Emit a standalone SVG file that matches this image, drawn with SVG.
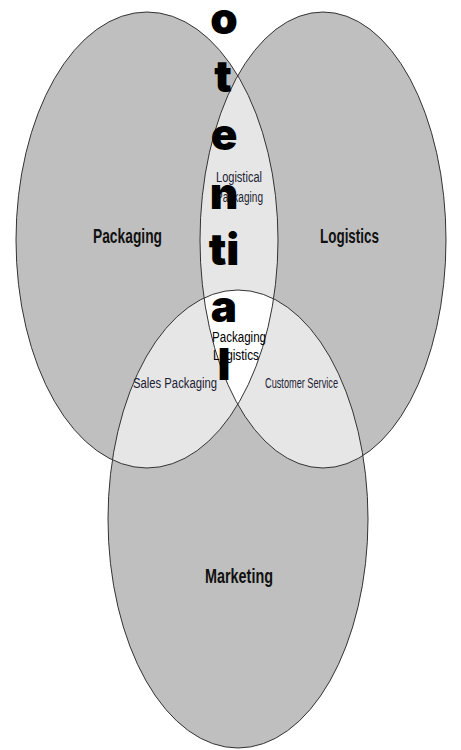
<svg xmlns="http://www.w3.org/2000/svg" width="461" height="750" viewBox="0 0 461 750">
  <defs>
    <clipPath id="cL"><ellipse cx="147" cy="240" rx="131" ry="228"/></clipPath>
    <clipPath id="cR"><ellipse cx="323" cy="240" rx="123" ry="228"/></clipPath>
    <clipPath id="cM"><ellipse cx="238" cy="519" rx="130" ry="229"/></clipPath>
    <style>
      .base { fill: #bfbfbf; stroke: none; }
      .pair { fill: #e6e6e6; stroke: none; }
      .triple { fill: #ffffff; stroke: none; }
      .outline { fill: none; stroke: #333333; stroke-width: 1; }
      .main { font-family: "Liberation Sans", Arial, sans-serif; font-weight: bold; font-size: 20px; fill: #111111; text-anchor: start; }
      .sub { font-family: "Liberation Sans", Arial, sans-serif; font-size: 14px; fill: #222233; }
      .subb { font-family: "Liberation Sans", Arial, sans-serif; font-size: 14px; fill: #000000; }
      .big { font-family: "Inter", "Lato", "Roboto", "DejaVu Sans", sans-serif; font-weight: 900; font-size: 44px; fill: #000000; text-anchor: middle; }
    </style>
  </defs>
  <rect width="461" height="750" fill="#ffffff"/>

  <g id="regions">
    <ellipse class="base" cx="147" cy="240" rx="131" ry="228"/>
    <ellipse class="base" cx="323" cy="240" rx="123" ry="228"/>
    <ellipse class="base" cx="238" cy="519" rx="130" ry="229"/>
    <g clip-path="url(#cL)"><ellipse class="pair" cx="323" cy="240" rx="123" ry="228"/></g>
    <g clip-path="url(#cL)"><ellipse class="pair" cx="238" cy="519" rx="130" ry="229"/></g>
    <g clip-path="url(#cR)"><ellipse class="pair" cx="238" cy="519" rx="130" ry="229"/></g>
    <g clip-path="url(#cL)"><g clip-path="url(#cR)"><ellipse class="triple" cx="238" cy="519" rx="130" ry="229"/></g></g>
  </g>

  <g id="packaging">
    <ellipse class="outline" cx="147" cy="240" rx="131" ry="228"/>
    <text class="main" x="93" y="243" textLength="69" lengthAdjust="spacingAndGlyphs">Packaging</text>
  </g>
  <g id="logistics">
    <ellipse class="outline" cx="323" cy="240" rx="123" ry="228"/>
    <text class="main" x="320" y="243" textLength="59" lengthAdjust="spacingAndGlyphs">Logistics</text>
  </g>
  <g id="marketing">
    <ellipse class="outline" cx="238" cy="519" rx="130" ry="229"/>
    <text class="main" x="205" y="583" textLength="68" lengthAdjust="spacingAndGlyphs">Marketing</text>
  </g>

  <g id="logistical-packaging">
    <text class="sub" x="216" y="182" textLength="46" lengthAdjust="spacingAndGlyphs">Logistical</text>
    <text class="sub" x="216" y="202" textLength="47" lengthAdjust="spacingAndGlyphs">Packaging</text>
  </g>
  <g id="packaging-logistics">
    <text class="subb" x="212" y="342" textLength="54" lengthAdjust="spacingAndGlyphs">Packaging</text>
    <text class="subb" x="213" y="360" textLength="46" lengthAdjust="spacingAndGlyphs">Logistics</text>
  </g>
  <g id="sales-packaging">
    <text class="sub" x="133" y="388" textLength="84" lengthAdjust="spacingAndGlyphs">Sales Packaging</text>
  </g>
  <g id="customer-service">
    <text class="sub" x="265" y="388" textLength="73" lengthAdjust="spacingAndGlyphs">Customer Service</text>
  </g>

  <g id="potential">
    <text class="big" x="224" y="34">o</text>
    <text class="big" x="223" y="92">t</text>
    <text class="big" x="224" y="150">e</text>
    <text class="big" x="224" y="209">n</text>
    <text class="big" x="224" y="265">ti</text>
    <text class="big" x="224" y="322">a</text>
    <text class="big" x="224" y="380">l</text>
  </g>
</svg>
